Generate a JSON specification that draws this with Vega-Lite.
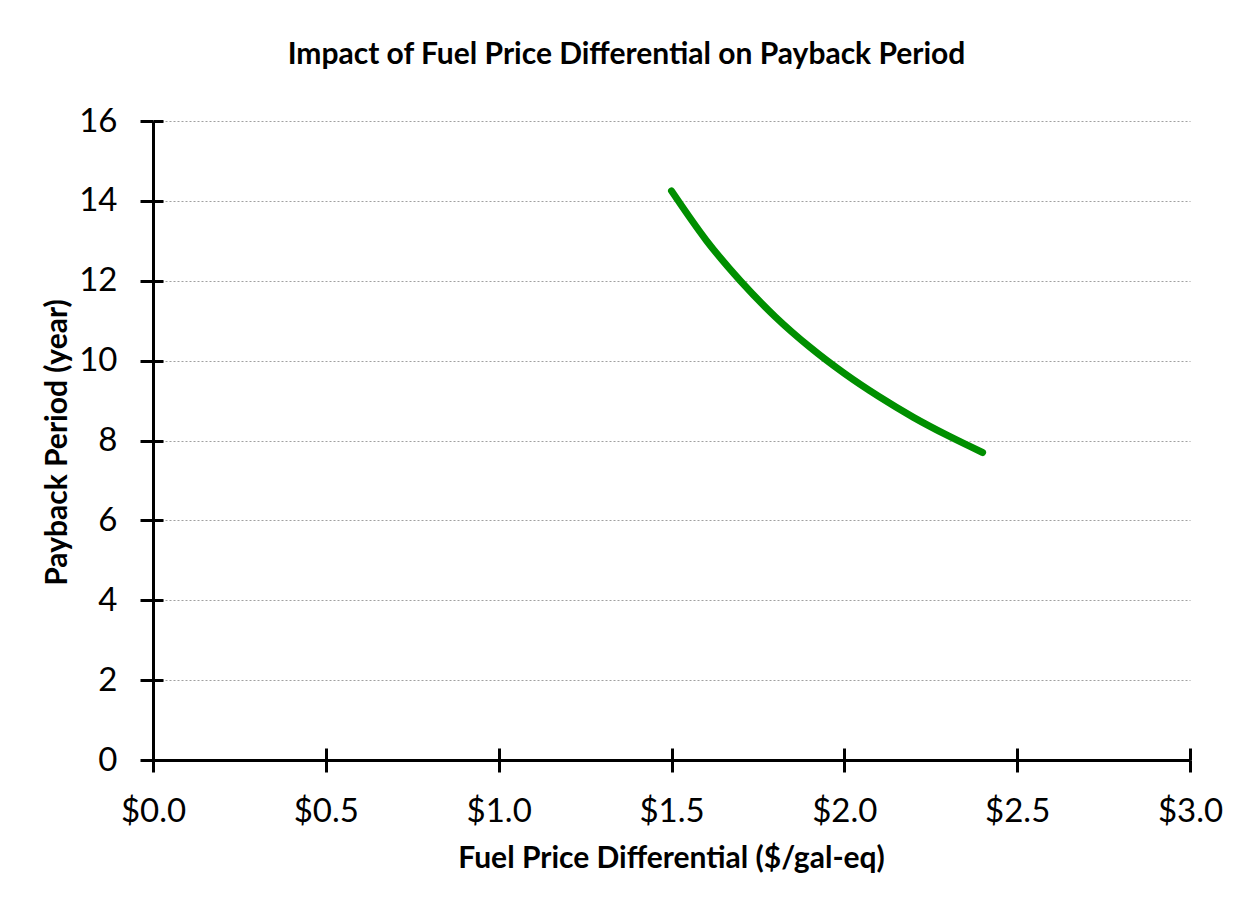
{
  "$schema": "https://vega.github.io/schema/vega-lite/v6.json",
  "width": 1037,
  "height": 639,
  "autosize": {"type": "none"},
  "padding": {"left": 153, "top": 121, "right": 63, "bottom": 149},
  "background": "white",
  "title": {
    "text": "Impact of Fuel Price Differential on Payback Period",
    "font": "Lato",
    "fontSize": 30,
    "fontWeight": "bold",
    "color": "black",
    "anchor": "middle",
    "frame": "group",
    "dx": -45,
    "baseline": "alphabetic",
    "offset": 11
  },
  "config": {
    "view": {"stroke": null},
    "font": "Lato"
  },
  "data": {
    "values": [
      {"diff": 1.5, "payback": 14.25},
      {"diff": 1.6, "payback": 13.02},
      {"diff": 1.7, "payback": 11.99},
      {"diff": 1.8, "payback": 11.10},
      {"diff": 1.9, "payback": 10.34},
      {"diff": 2.0, "payback": 9.68},
      {"diff": 2.1, "payback": 9.10},
      {"diff": 2.2, "payback": 8.58},
      {"diff": 2.3, "payback": 8.12},
      {"diff": 2.4, "payback": 7.70}
    ]
  },
  "layer": [
    {
      "mark": {"type": "line", "color": "#008F00", "strokeWidth": 7, "strokeCap": "round", "interpolate": "monotone"},
      "encoding": {
        "x": {
          "field": "diff", "type": "quantitative",
          "scale": {"domain": [0, 3], "nice": false, "zero": false},
          "axis": {
            "orient": "bottom",
            "values": [0, 0.5, 1, 1.5, 2, 2.5, 3],
            "format": "$.1f",
            "grid": false,
            "domainColor": "black", "domainWidth": 3,
            "tickColor": "black", "tickWidth": 3, "tickSize": 12,
            "labelFont": "Lato", "labelFontSize": 33, "labelColor": "black",
            "labelPadding": 23, "labelFlush": false, "labelOverlap": false,
            "title": "Fuel Price Differential ($/gal-eq)",
            "titleFont": "Lato", "titleFontSize": 30, "titleFontWeight": "bold", "titleColor": "black",
            "titleBaseline": "alphabetic", "titleY": 107, "titleX": 518
          }
        },
        "y": {
          "field": "payback", "type": "quantitative",
          "scale": {"domain": [0, 16], "nice": false},
          "axis": {
            "orient": "left",
            "values": [0, 2, 4, 6, 8, 10, 12, 14, 16],
            "grid": true, "gridColor": "#a0a0a0", "gridDash": [2, 2], "gridWidth": 1.2,
            "domainColor": "black", "domainWidth": 3,
            "tickColor": "black", "tickWidth": 3, "tickSize": 13,
            "labelFont": "Lato", "labelFontSize": 33, "labelColor": "black",
            "labelPadding": 23, "labelFlush": false, "labelOverlap": false,
            "title": "Payback Period (year)",
            "titleFont": "Lato", "titleFontSize": 30, "titleFontWeight": "bold", "titleColor": "black",
            "titleBaseline": "alphabetic", "titleAngle": -90, "titleX": -87, "titleY": 321
          }
        }
      }
    },
    {
      "mark": {"type": "point", "opacity": 0},
      "encoding": {
        "x": {
          "field": "diff", "type": "quantitative",
          "scale": {"domain": [0, 3], "nice": false, "zero": false},
          "axis": {
            "orient": "bottom", "offset": -12,
            "values": [0, 0.5, 1, 1.5, 2, 2.5, 3],
            "grid": false, "domain": false, "labels": false, "title": null,
            "tickColor": "black", "tickWidth": 3, "tickSize": 12
          }
        },
        "y": {
          "field": "payback", "type": "quantitative",
          "scale": {"domain": [0, 16], "nice": false},
          "axis": {
            "orient": "left", "offset": -10,
            "values": [0, 2, 4, 6, 8, 10, 12, 14, 16],
            "grid": false, "domain": false, "labels": false, "title": null,
            "tickColor": "black", "tickWidth": 3, "tickSize": 10
          }
        }
      }
    }
  ],
  "resolve": {"axis": {"x": "independent", "y": "independent"}}
}
